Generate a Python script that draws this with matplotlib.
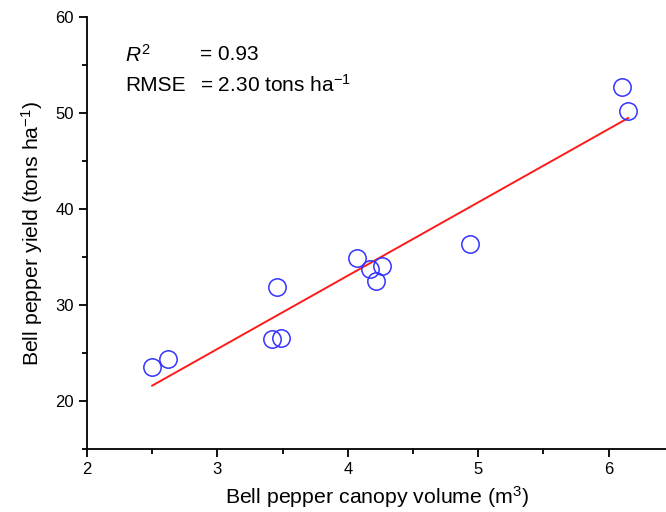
import numpy as np
import matplotlib.pyplot as plt
from matplotlib.ticker import MultipleLocator

plt.rcParams['font.family'] = ['Liberation Sans', 'DejaVu Sans']
plt.rcParams['mathtext.fontset'] = 'custom'
plt.rcParams['mathtext.rm'] = 'Liberation Sans'
plt.rcParams['mathtext.it'] = 'Liberation Sans:italic'

# canopy volume (m3) and yield (tons/ha)
volume = [2.50, 2.62, 3.46, 3.42, 3.49, 4.07, 4.17, 4.26, 4.22, 4.94, 6.10, 6.15]
yield_ = [23.6, 24.4, 31.9, 26.5, 26.6, 34.9, 33.8, 34.1, 32.5, 36.4, 52.7, 50.2]

x = np.array(volume)
y = np.array(yield_)
slope, icpt = np.polyfit(x, y, 1)
xs = np.array([x.min(), x.max()])

fig = plt.figure(figsize=(6.66, 5.12), dpi=100)
ax = fig.add_axes([0.1306, 0.123, 0.8694, 0.843])

ax.plot(xs, slope * xs + icpt, color='#ff1a1a', lw=1.4, zorder=2)
ax.plot(x, y, 'o', ms=12.5, mfc='none', mec='#3333ff', mew=1.1, zorder=3)

ax.set_xlim(2, 6.44)
ax.set_ylim(15, 60)
ax.xaxis.set_major_locator(MultipleLocator(1))
ax.xaxis.set_minor_locator(MultipleLocator(0.5))
ax.yaxis.set_minor_locator(MultipleLocator(5))
ax.yaxis.set_ticks([20, 30, 40, 50, 60])

for s in ['top', 'right']:
    ax.spines[s].set_visible(False)
for s in ['left', 'bottom']:
    ax.spines[s].set_linewidth(1.3)
ax.tick_params(which='major', direction='out', length=6, width=1.3, labelsize=12)
ax.tick_params(which='minor', direction='out', length=3.5, width=1.3)

ax.set_xlabel('Bell pepper canopy volume (m$^3$)', fontsize=15.3, labelpad=5)
ax.set_ylabel('Bell pepper yield (tons ha$^{-1}$)', fontsize=15.3, labelpad=7)

fs = 15
ax.text(0.0656, 0.913, '$\\mathit{R}^2$', transform=ax.transAxes, fontsize=fs, va='center')
ax.text(0.195, 0.913, '= 0.93', transform=ax.transAxes, fontsize=fs, va='center')
ax.text(0.0656, 0.843, 'RMSE', transform=ax.transAxes, fontsize=fs, va='center')
ax.text(0.195, 0.843, '= 2.30 tons ha$^{-1}$', transform=ax.transAxes, fontsize=fs, va='center')

fig.savefig('out.png', dpi=100)
